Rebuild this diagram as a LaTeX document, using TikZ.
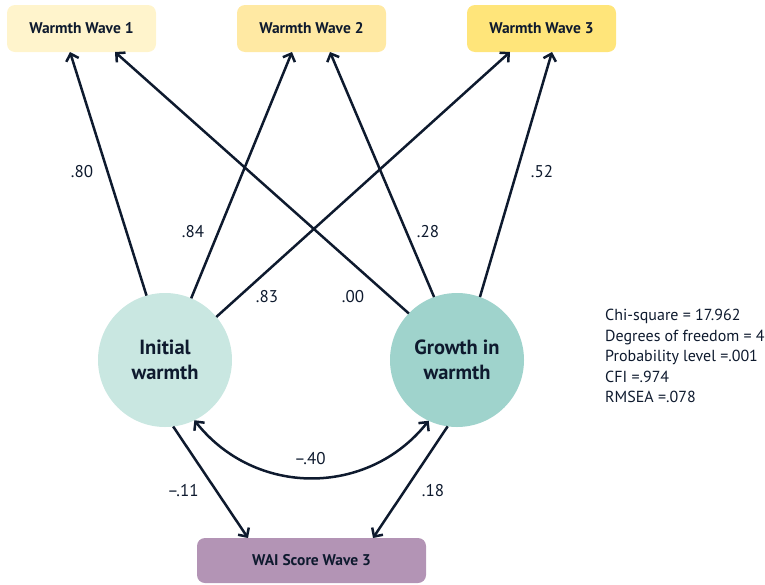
\documentclass[tikz,border=0pt]{standalone}
\usepackage{fontspec}
\setmainfont{PT Sans}
\usetikzlibrary{arrows.meta}
\definecolor{ink}{HTML}{0E1A2E}
\definecolor{wonec}{HTML}{FFF4CC}
\definecolor{wtwoc}{HTML}{FFE9A3}
\definecolor{wthreec}{HTML}{FFE57A}
\definecolor{waic}{HTML}{B394B5}
\definecolor{iwc}{HTML}{C9E7E1}
\definecolor{gwc}{HTML}{9FD3CC}
\begin{document}
\begin{tikzpicture}[x=1pt,y=-1pt,
  box/.style={rectangle, rounded corners=8pt, minimum width=149pt, minimum height=47pt, inner sep=0pt, outer sep=0pt, font=\bfseries\fontsize{15.5}{18}\selectfont, text=ink},
  latent/.style={circle, minimum size=134pt, inner sep=0pt, outer sep=0pt, font=\bfseries\fontsize{20.5}{25}\selectfont, align=center, text=ink},
  tip/.style={},
  conn/.style={-{Straight Barb[length=6.5pt,width=13pt,line width=2.5pt]}, line width=2.5pt, draw=ink},
  dconn/.style={{Straight Barb[length=6.5pt,width=13pt,line width=2.5pt]}-{Straight Barb[length=6.5pt,width=13pt,line width=2.5pt]}, line width=2.5pt, draw=ink},
  coef/.style={font=\fontsize{17}{20}\selectfont, text=ink, inner sep=0pt},
]
\useasboundingbox (0,0) rectangle (765,584);

\node[box, fill=wonec] (w1) at (81.5,28.5) {Warmth Wave 1};
\node[box, fill=wtwoc] (w2) at (311.5,28.5) {Warmth Wave 2};
\node[box, fill=wthreec] (w3) at (541.5,28.5) {Warmth Wave 3};
\node[box, fill=waic, minimum width=229pt, minimum height=45pt] (wai) at (311.5,560.5) {WAI Score Wave 3};

\node[latent, fill=iwc] (iw) at (165,360) {Initial\\warmth};
\node[latent, fill=gwc] (gw) at (457,360) {Growth in\\warmth};

\draw[conn] (iw.106) -- ([xshift=-11.5pt]w1.south);
\draw[conn] (iw.67) -- ([xshift=-19.5pt]w2.south);
\draw[conn] (iw.40) -- ([xshift=-31.5pt]w3.south);
\draw[conn] (gw.136) -- ([xshift=33.5pt]w1.south);
\draw[conn] (gw.110) -- ([xshift=18.5pt]w2.south);
\draw[conn] (gw.70) -- ([xshift=10.5pt]w3.south);
\draw[conn] (iw.-83) -- ([xshift=-63.5pt]wai.north);
\draw[conn] (gw.-98) -- ([xshift=61.5pt]wai.north);
\draw[dconn] (iw.-64) .. controls (255,497) and (368,497) .. (gw.-115);

\node[coef] (c1) at (82,172) {.80};
\node[coef] (c2) at (193,232) {.84};
\node[coef] (c3) at (267,297) {.83};
\node[coef] (c4) at (353,297) {.00};
\node[coef] (c5) at (428,232) {.28};
\node[coef] (c6) at (542,172) {.52};
\node[coef] (c7) at (310,459) {\textendash.40};
\node[coef] (c8) at (183,491) {\textendash.11};
\node[coef] (c9) at (433,491) {.18};

\node[anchor=north west, align=left, inner sep=0pt, text=ink, font=\fontsize{16}{20.5}\selectfont] (stats) at (605,309)
 {Chi-square = 17.962\\Degrees of freedom = 4\\Probability level =.001\\CFI =.974\\RMSEA =.078};
\end{tikzpicture}
\end{document}
